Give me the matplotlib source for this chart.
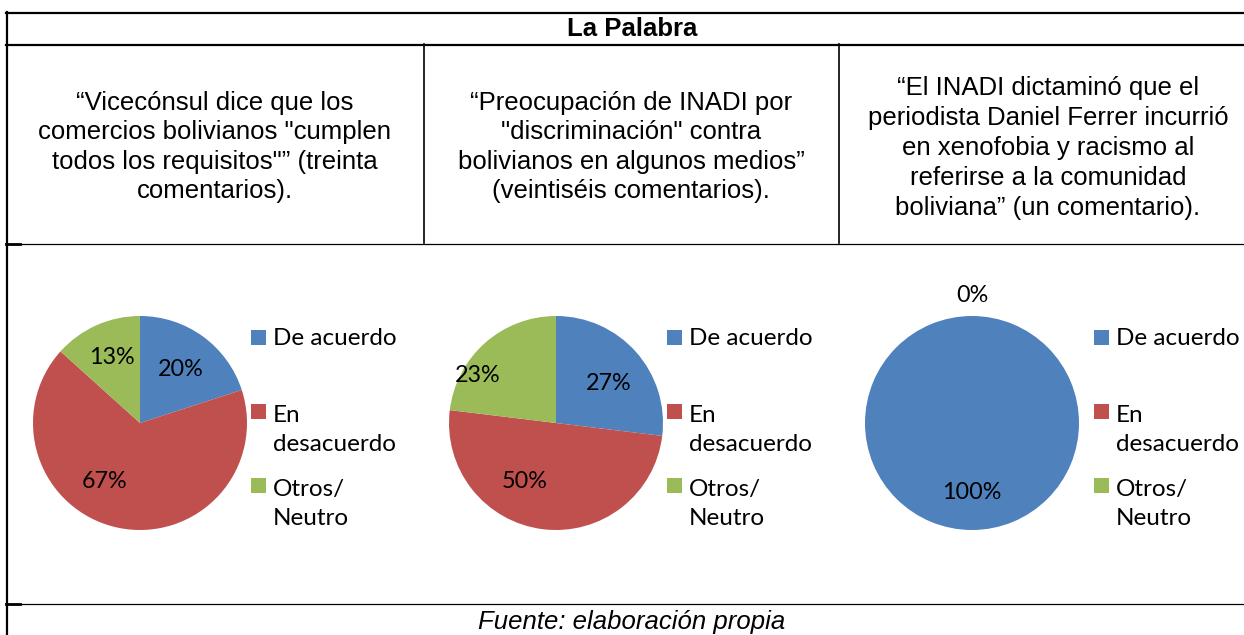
"""
    La Palabra - pie charts in a table layout
"""

import matplotlib.pyplot as plt
from matplotlib.lines import Line2D
from matplotlib.patches import Rectangle

W, H = 1244, 635

# Data
categories = ['De acuerdo', 'En\ndesacuerdo', 'Otros/\nNeutro']
colors = ['#4F81BD', '#C0504D', '#9BBB59']
header = 'La Palabra'
quotes = [
    '“Vicecónsul dice que los\ncomercios bolivianos "cumplen\ntodos los requisitos"” (treinta\ncomentarios).',
    '“Preocupación de INADI por\n"discriminación" contra\nbolivianos en algunos medios”\n(veintiséis comentarios).',
    '“El INADI dictaminó que el\nperiodista Daniel Ferrer incurrió\nen xenofobia y racismo al\nreferirse a la comunidad\nboliviana” (un comentario).',
]
counts_1 = [6, 20, 4]
counts_2 = [7, 13, 6]
counts_3 = [1, 0, 0]
source = 'Fuente: elaboración propia'


def fx(px):
    return px / W


def fy(py):
    return 1 - py / H


fig = plt.figure(figsize=(W / 100, H / 100), dpi=100)
fig.patch.set_facecolor('white')


def hline(y, x0, x1, lw=1.0):
    fig.add_artist(Line2D([fx(x0), fx(x1)], [fy(y), fy(y)], color='black', lw=lw))


def vline(x, y0, y1, lw=1.0):
    fig.add_artist(Line2D([fx(x), fx(x)], [fy(y0), fy(y1)], color='black', lw=lw))


# table grid
hline(12.5, 6, W, lw=1.6)
hline(44.5, 6, W, lw=1.6)
hline(243.5, 6, W, lw=0.9)
hline(603.5, 6, W, lw=0.9)
hline(243.5, 6, 20, lw=2)
hline(603.5, 6, 20, lw=2)
vline(7.5, 12, H, lw=1.6)
vline(423.5, 44, 243, lw=1.2)
vline(839.5, 44, 243, lw=1.2)

tfont = 'Liberation Sans'
fig.text(fx(632), fy(29), header, ha='center', va='center',
         fontsize=18.5, fontweight='bold', family=tfont)

quote_pos = [(215, 147), (631, 147), (1048, 148)]
quote_ls = [1.28, 1.28, 1.31]
for (qx, qy), q, ls in zip(quote_pos, quotes, quote_ls):
    fig.text(fx(qx), fy(qy), q, ha='center', va='center', fontsize=18.5,
             family=tfont, linespacing=ls)

fig.text(fx(632), fy(622), source, ha='center', va='center', fontsize=18.5,
         family=tfont, style='italic')

# pies
pie_centers = [140, 556, 972]
legend_x = [251, 667, 1094]
R = 107
CY = 423
pie_data = [counts_1, counts_2, counts_3]
# label positions inside each pie (pie radius units)
label_xy = [
    [(0.38, 0.50), (-0.33, -0.55), (-0.26, 0.61)],
    [(0.49, 0.37), (-0.29, -0.55), (-0.73, 0.44)],
    [(0.0, -0.65), (0.0, 1.19), (0.0, 1.19)],
]

lfont = ['Lato', 'DejaVu Sans']
for cx, lx, vals, lpos in zip(pie_centers, legend_x, pie_data, label_xy):
    ax = fig.add_axes([fx(cx - R), fy(CY + R), 2 * R / W, 2 * R / H])
    wedges, texts, autotexts = ax.pie(
        vals, colors=colors, startangle=90, counterclock=False,
        autopct=lambda p: '%d%%' % round(p), pctdistance=0.63,
        wedgeprops=dict(linewidth=0),
        textprops=dict(fontsize=16.8, family=lfont, color='black'))
    for t, (tx, ty) in zip(autotexts, lpos):
        t.set_position((tx, ty))
    if vals[1] == 0 and vals[2] == 0:
        autotexts[2].set_visible(False)
    ax.set_xlim(-1, 1)
    ax.set_ylim(-1, 1)
    ax.axis('off')

    # legend
    sq_y = [337, 411, 485]
    for col, lab, sy in zip(colors, categories, sq_y):
        fig.add_artist(Rectangle((fx(lx), fy(sy + 7.5)), 15 / W, 15 / H,
                                 transform=fig.transFigure, facecolor=col,
                                 edgecolor='none'))
        nl = lab.count('\n')
        fig.text(fx(lx + 22), fy(sy + 8 + 32 * nl), lab, ha='left',
                 va='baseline', fontsize=17.5, family=lfont, linespacing=1.47)

fig.savefig('out.png', dpi=100)
